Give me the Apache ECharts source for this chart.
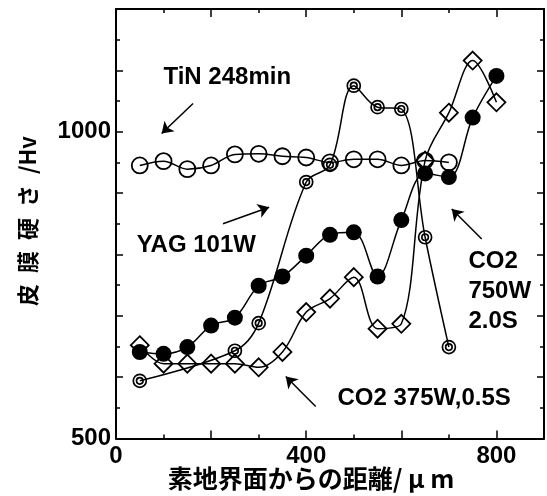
<!DOCTYPE html>
<html>
<head>
<meta charset="utf-8">
<script src="https://cdn.jsdelivr.net/npm/echarts@6/dist/echarts.min.js"></script>
<style>
  html, body { margin: 0; padding: 0; background: #fff; }
  #c { width: 547px; height: 496px; }
</style>
</head>
<body>
<div id="c"></div>
<script>
// Coating hardness vs. distance from the substrate interface
const tinX = [50, 100, 150, 200, 250, 300, 350, 400, 450, 500, 550, 600, 650, 700];
const tinY = [945, 952, 939, 945, 963, 964, 960, 958, 950, 955, 955, 945, 953, 950];

const yagX = [50, 250, 300, 400, 450, 500, 550, 600, 650, 700];
const yagY = [594, 643, 688, 918, 946, 1075, 1040, 1037, 828, 649];

const co2LowX = [50, 100, 150, 200, 250, 300, 350, 400, 450, 500, 550, 600, 650, 700, 750, 800];
const co2LowY = [652, 622, 622, 622, 622, 616, 641, 706, 728, 763, 679, 687, 953, 1031, 1116, 1048];

const co2HighX = [50, 100, 150, 200, 250, 300, 350, 400, 450, 500, 550, 600, 650, 700, 750, 800];
const co2HighY = [641, 638, 649, 684, 697, 749, 764, 798, 832, 836, 764, 856, 932, 926, 1023, 1091];

const xTickLabels = [0, 400, 800];
const yTickLabels = [500, 1000];

// annotation captions and their arrows, in data coordinates
const captions = [
  { text: 'TiN 248min', at: [234, 1089], align: 'center' },
  { text: 'YAG 101W', at: [169, 815], align: 'center' },
  { text: 'CO2\n750W\n2.0S', at: [741, 739], align: 'left' },
  { text: 'CO2 375W,0.5S', at: [648, 566], align: 'center' }
];
const arrows = [
  [[162, 1046], [96, 997]],
  [[225, 850], [322, 877]],
  [[769, 825], [706, 874]],
  [[420, 552], [357, 601]]
];

const pairs = (xs, ys) => xs.map((x, i) => [x, ys[i]]);

const black = '#000';
const numFont = { fontFamily: 'Liberation Sans', fontWeight: 'bold', fontSize: 24, color: black };

const frameLine = { show: true, onZero: false, lineStyle: { color: black, width: 2 } };

function xAxisDef(pos, labels) {
  return {
    type: 'value', position: pos, min: 0, max: 900, interval: 200,
    axisLine: frameLine,
    axisTick: { show: true, inside: true, length: 8, lineStyle: { color: black, width: 1.5 } },
    minorTick: { show: true, splitNumber: 2, length: 4, lineStyle: { color: black, width: 1.5 } },
    splitLine: { show: false }, minorSplitLine: { show: false },
    axisLabel: labels ? Object.assign({
      margin: 6,
      formatter: v => xTickLabels.includes(v) ? String(v) : ''
    }, numFont) : { show: false }
  };
}
function yAxisDef(pos, labels) {
  return {
    type: 'value', position: pos, min: 500, max: 1200, interval: 100,
    axisLine: frameLine,
    axisTick: { show: true, inside: true, length: 7, lineStyle: { color: black, width: 1.5 } },
    minorTick: { show: true, splitNumber: 2, length: 4, lineStyle: { color: black, width: 1.5 } },
    splitLine: { show: false }, minorSplitLine: { show: false },
    axisLabel: labels ? Object.assign({
      margin: 5,
      formatter: v => yTickLabels.includes(v) ? String(v) : ''
    }, numFont) : { show: false }
  };
}

const lineStyle = { color: black, width: 1.5 };
const hollow = { color: 'transparent', borderColor: black, borderWidth: 1.8 };
const ringSymbol = 'path://M0,-10A10,10,0,1,1,0,10A10,10,0,1,1,0,-10ZM0,-5A5,5,0,1,1,0,5A5,5,0,1,1,0,-5Z';

const chart = echarts.init(document.getElementById('c'), null, { renderer: 'canvas' });

chart.setOption({
  animation: false,
  backgroundColor: '#fff',
  grid: { left: 116, right: 1, top: 9, bottom: 57.5, containLabel: false },
  xAxis: [xAxisDef('bottom', true), xAxisDef('top', false)],
  yAxis: [yAxisDef('left', true), yAxisDef('right', false)],
  series: [
    {
      name: 'CO2 375W,0.5S', type: 'line', smooth: 0.35,
      data: pairs(co2LowX, co2LowY),
      symbol: 'diamond', symbolSize: 18,
      lineStyle, itemStyle: hollow, z: 2
    },
    {
      name: 'CO2 750W 2.0S', type: 'line', smooth: 0.35,
      data: pairs(co2HighX, co2HighY),
      symbol: 'circle', symbolSize: 16,
      lineStyle, itemStyle: { color: black, borderColor: black, borderWidth: 0 }, z: 3,
      markLine: {
        silent: true, symbol: ['none', 'arrow'], symbolSize: 11,
        itemStyle: { color: black },
        lineStyle: { color: black, width: 1.5, type: 'solid' },
        label: { show: false },
        data: arrows.map(a => [{ coord: a[0] }, { coord: a[1] }])
      }
    },
    {
      name: 'YAG 101W', type: 'line', smooth: 0.35,
      data: pairs(yagX, yagY),
      symbol: ringSymbol, symbolSize: 13,
      lineStyle, itemStyle: { color: 'transparent', borderColor: black, borderWidth: 1.7 }, z: 4
    },
    {
      name: 'TiN 248min', type: 'line', smooth: 0.35,
      data: pairs(tinX, tinY),
      symbol: 'circle', symbolSize: 16,
      lineStyle, itemStyle: hollow, z: 5
    }
  ]
});

// captions and axis titles
const toPx = p => chart.convertToPixel({ gridIndex: 0 }, p);
const graphics = captions.map(c => {
  const p = toPx(c.at);
  return {
    type: 'text', x: p[0], y: p[1], z: 10,
    style: {
      text: c.text, fill: black, align: c.align, verticalAlign: 'middle',
      font: 'bold 24px "Liberation Sans"', lineHeight: 30
    }
  };
});
graphics.push({
  type: 'text', x: 311, y: 478, z: 10,
  style: {
    text: '素地界面からの距離/ μ m', fill: black, align: 'center', verticalAlign: 'middle',
    font: 'bold 25px "Noto Sans CJK JP"'
  }
});
graphics.push({
  type: 'text', x: 28, y: 221, rotation: Math.PI / 2, z: 10,
  style: {
    text: '皮\u2002膜\u2002硬\u2002さ\u2002/Hv', fill: black, align: 'center', verticalAlign: 'middle',
    font: 'bold 22px "Noto Sans CJK JP"'
  }
});
chart.setOption({ graphic: graphics });
</script>
</body>
</html>
